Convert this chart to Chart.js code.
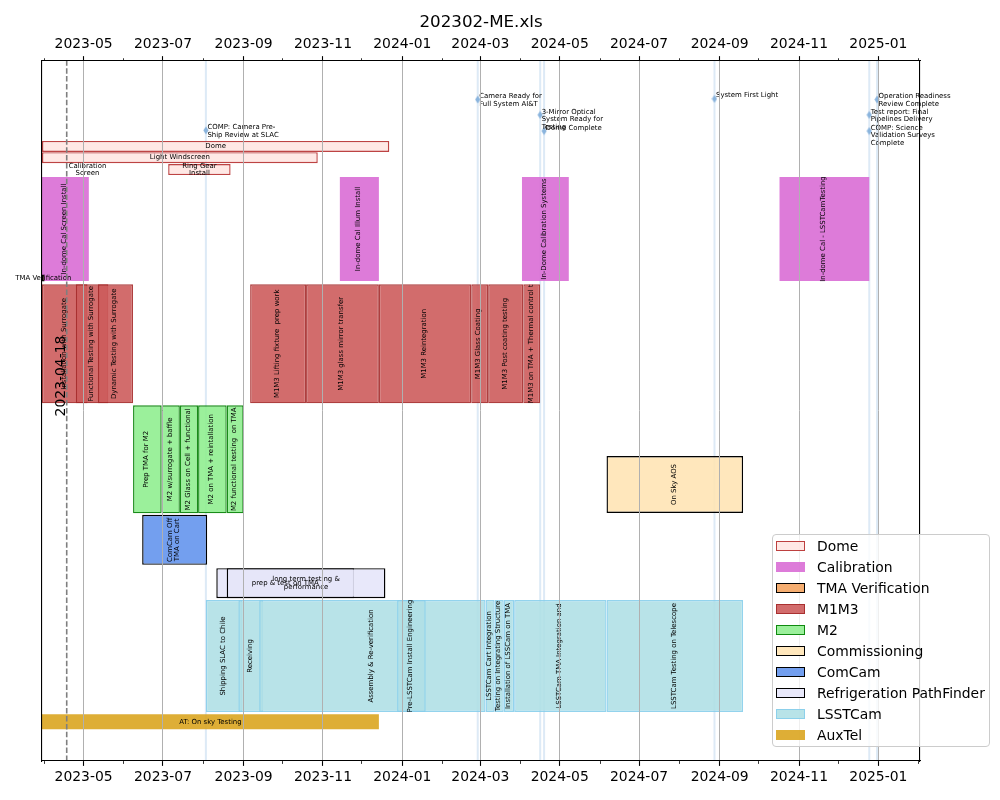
<!DOCTYPE html>
<html>
<head>
<meta charset="utf-8">
<script src="https://cdn.jsdelivr.net/npm/chart.js@4.4.1/dist/chart.umd.min.js"></script>
<style>
html,body{margin:0;padding:0;background:#fff;}
#wrap{position:relative;width:1000px;height:800px;}
#legend{position:absolute;left:772px;top:534px;width:218px;height:213px;box-sizing:border-box;border:1px solid #cccccc;border-radius:4px;background:rgba(255,255,255,0.8);font-family:'DejaVu Sans',sans-serif;font-size:13.9px;color:#000;}
.li{position:absolute;left:3px;height:21px;display:flex;align-items:center;white-space:nowrap;}
.sw{width:29px;height:10px;box-sizing:border-box;margin-right:12px;}
</style>
</head>
<body>
<div id="wrap"><canvas id="c" width="1000" height="800"></canvas><div id="legend"></div></div>
<script>
// ---------------- DATA ----------------
const chartTitle = '202302-ME.xls';
const axisRange = ['2023-03-30', '2025-02-02'];
const majorTicks = ['2023-05','2023-07','2023-09','2023-11','2024-01','2024-03','2024-05','2024-07','2024-09','2024-11','2025-01'];
const minorTicks = ['2023-04','2023-06','2023-08','2023-10','2023-12','2024-02','2024-04','2024-06','2024-08','2024-10','2024-12','2025-02'];

const categories = ['Dome','Calibration','TMA Verification','M1M3','M2','Commissioning','ComCam','Refrigeration PathFinder','LSSTCam','AuxTel'];

const taskLabels = [
  'Dome','Light Windscreen','Ring Gear\nInstall','Calibration\nScreen',
  'In-dome Cal Screen Install','In-dome Cal Illum Install','In-Dome Calibration Systems','In-dome Cal - LSSTCamTesting',
  'TMA Verification',
  'Installation with Surrogate','Functional Testing with Surrogate','Dynamic Testing with Surrogate',
  'M1M3 Lifting fixture  prep work','M1M3 glass mirror transfer','M1M3 Reintegration','M1M3 Glass Coating',
  'M1M3 Post coating testing','M1M3 on TMA + Thermal control t',
  'Prep TMA for M2','M2 w/surrogate + baffle','M2 Glass on Cell + functional','M2 on TMA + reintallation','M2 functional testing  on TMA',
  'On Sky AOS',
  'ComCam Off\nTMA on Cart',
  'prep & test on TMA','long term testing &\nperformance',
  'Shipping SLAC to Chile','Receiving','Assembly & Re-verification','Pre-LSSTCam Install Engineering',
  'LSSTCam Cart Integration','Testing on Integrating Structure','Installation of LSSCam on TMA',
  'LSSTCam TMA Integration and','LSSTCam Testing on Telescope',
  'AT: On sky Testing'
];
const taskGroups = [
  0,0,0,0,
  1,1,1,1,
  2,
  3,3,3,3,3,3,3,3,3,
  4,4,4,4,4,
  5,
  6,
  7,7,
  8,8,8,8,8,8,8,8,8,
  9
];
const taskStarts = [
  '2023-03-30','2023-03-30','2023-07-05','2023-05-04',
  '2023-03-30','2023-11-14','2024-04-02','2024-10-17',
  '2023-03-30',
  '2023-03-30','2023-04-25','2023-05-12','2023-09-06','2023-10-19','2023-12-14','2024-02-23','2024-03-07','2024-04-03',
  '2023-06-08','2023-06-30','2023-07-14','2023-07-28','2023-08-19',
  '2024-06-06',
  '2023-06-15',
  '2023-08-11','2023-08-19',
  '2023-08-03','2023-08-28','2023-09-13','2023-12-28','2024-03-05','2024-03-12','2024-03-19','2024-03-27','2024-06-06',
  '2023-03-30'
];
const taskEnds = [
  '2023-12-22','2023-10-28','2023-08-22','2023-05-04',
  '2023-05-05','2023-12-14','2024-05-08','2024-12-25',
  '2023-04-01',
  '2023-05-04','2023-05-20','2023-06-08','2023-10-19','2023-12-14','2024-02-23','2024-03-07','2024-04-03','2024-04-16',
  '2023-06-30','2023-07-14','2023-07-28','2023-08-19','2023-09-01',
  '2024-09-19',
  '2023-08-04',
  '2023-11-25','2023-12-19',
  '2023-08-31','2023-09-16','2024-03-05','2024-01-19','2024-03-12','2024-03-19','2024-03-27','2024-06-06','2024-09-19',
  '2023-12-14'
];
const taskRows = [
  87.8,86.2,84.5,84.5,
  76,76,76,76,
  69,
  59.6,59.6,59.6,59.6,59.6,59.6,59.6,59.6,59.6,
  43.1,43.1,43.1,43.1,43.1,
  39.5,
  31.6,
  25.4,25.4,
  15,15,15,15,15,15,15,15,15,
  5.6
];

const milestoneLabels = [
  'COMP: Camera Pre-Ship Review at SLAC',
  'Camera Ready for Full System AI&T',
  '3-Mirror Optical System Ready for Testing',
  'Dome Complete',
  'System First Light',
  'Operation Readiness Review Complete',
  'Test report: Final Pipelines Delivery',
  'COMP: Science Validation Surveys Complete'
];
const milestoneDates = ['2023-08-03','2024-02-28','2024-04-16','2024-04-19','2024-08-28','2024-12-31','2024-12-25','2024-12-25'];
const milestoneRows = [90.1, 94.5, 92.3, 90.0, 94.6, 94.5, 92.3, 90.0];

const markerDate = '2023-04-18';
const markerRow = 55;
const yRange = [0, 100];

// ---------------- STYLE ----------------
const groupStyles = [
  {fill:'rgba(255,228,225,0.85)', edge:'rgba(178,34,34,0.85)', bw:1.4, thick:11, vertical:false},
  {fill:'rgba(218,112,214,0.92)', edge:'rgba(0,0,0,0)', bw:0, thick:104, vertical:true},
  {fill:'rgba(244,164,96,0.9)', edge:'#000000', bw:1.2, thick:7, vertical:false},
  {fill:'rgba(205,92,92,0.9)', edge:'rgba(165,42,42,0.9)', bw:1.4, thick:119, vertical:true},
  {fill:'rgba(144,238,144,0.9)', edge:'rgba(0,128,0,0.9)', bw:1.4, thick:108, vertical:true},
  {fill:'rgba(255,228,181,0.9)', edge:'#000000', bw:1.4, thick:57, vertical:true},
  {fill:'rgba(100,149,237,0.9)', edge:'#000000', bw:1.4, thick:50, vertical:true},
  {fill:'rgba(230,230,250,0.9)', edge:'#000000', bw:1.4, thick:30, vertical:false},
  {fill:'rgba(176,224,230,0.9)', edge:'rgba(135,206,235,0.9)', bw:1.4, thick:112, vertical:true},
  {fill:'rgba(218,165,32,0.9)', edge:'rgba(0,0,0,0)', bw:0, thick:15, vertical:false}
];
const LABEL_FONT = '6.94px "DejaVu Sans", sans-serif';

// ---------------- BUILD ----------------
const toMs = s => Date.parse(s + 'T00:00:00Z');
const monthKey = v => { const d = new Date(v); return d.getUTCFullYear() + '-' + String(d.getUTCMonth() + 1).padStart(2, '0'); };
const allMonths = majorTicks.concat(minorTicks).sort();
const isMajorVal = v => majorTicks.includes(monthKey(v));

function wrapText(s, width) {
  const words = s.split(' ');
  const lines = []; let cur = '';
  words.forEach(w => {
    if (!cur) { cur = w; return; }
    if ((cur + ' ' + w).length <= width) { cur += ' ' + w; return; }
    const hy = w.indexOf('-');
    if (hy > 0 && (cur + ' ' + w.slice(0, hy + 1)).length <= width) {
      lines.push(cur + ' ' + w.slice(0, hy + 1)); cur = w.slice(hy + 1); return;
    }
    lines.push(cur); cur = w;
  });
  if (cur) lines.push(cur);
  return lines;
}

const datasets = [];

// milestone vertical lines (under everything)
const vlineData = [];
milestoneDates.forEach(d => {
  vlineData.push({x: toMs(d), y: yRange[0]}, {x: toMs(d), y: yRange[1]}, {x: toMs(d), y: null});
});
datasets.push({
  type: 'line', label: '_vlines', data: vlineData, order: 100,
  borderColor: 'rgba(150,190,228,0.32)', borderWidth: 2, pointRadius: 0, spanGaps: false, fill: false
});

categories.forEach((cat, g) => {
  const st = groupStyles[g];
  const idx = taskGroups.map((gg, i) => gg === g ? i : -1).filter(i => i >= 0);
  datasets.push({
    type: 'bar', label: cat, isGroup: true, indexAxis: 'y', grouped: false, order: 50 - g,
    data: idx.map(i => ({x: [toMs(taskStarts[i]), toMs(taskEnds[i])], y: taskRows[i]})),
    taskText: idx.map(i => taskLabels[i]),
    verticalText: st.vertical,
    backgroundColor: st.fill, borderColor: st.edge, borderWidth: st.bw, borderSkipped: false,
    barThickness: st.thick, inflateAmount: 0
  });
});

// diamond marker
const dia = document.createElement('canvas'); dia.width = 6; dia.height = 9;
(function(){ const g = dia.getContext('2d'); g.fillStyle = '#8ab4dd'; g.beginPath();
  g.moveTo(3, 0.5); g.lineTo(5.6, 4.5); g.lineTo(3, 8.5); g.lineTo(0.4, 4.5); g.closePath(); g.fill(); })();

datasets.push({
  type: 'scatter', label: '_milestones', order: 2,
  data: milestoneDates.map((d, i) => ({x: toMs(d), y: milestoneRows[i]})),
  milestoneText: milestoneLabels.map(s => wrapText(s, 20)),
  pointStyle: dia, pointRadius: 4, showLine: false
});

datasets.push({
  type: 'line', label: '_marker', order: 1, isMarker: true,
  data: [{x: toMs(markerDate), y: yRange[0]}, {x: toMs(markerDate), y: yRange[1]}],
  borderColor: '#7f7f7f', borderWidth: 1.6, borderDash: [5.5, 2.4], pointRadius: 0, fill: false
});

// ---------------- PLUGINS ----------------
const labelPlugin = {
  id: 'taskLabels',
  afterDatasetDraw(chart, args) {
    const ds = chart.data.datasets[args.index];
    const ctx = chart.ctx;
    const meta = args.meta;
    if (ds.taskText) {
      ctx.save();
      ctx.fillStyle = '#000'; ctx.font = LABEL_FONT; ctx.textAlign = 'center'; ctx.textBaseline = 'middle';
      const lh = 7.8;
      meta.data.forEach((el, i) => {
        const p = el.getProps(['x', 'y', 'base'], true);
        const cx = (p.x + p.base) / 2;
        const lines = ds.taskText[i].split('\n');
        if (ds.verticalText) {
          ctx.save(); ctx.translate(cx - 1, p.y); ctx.rotate(-Math.PI / 2);
          lines.forEach((ln, k) => ctx.fillText(ln, 0, (k - (lines.length - 1) / 2) * lh));
          ctx.restore();
        } else {
          lines.forEach((ln, k) => ctx.fillText(ln, cx, p.y + (k - (lines.length - 1) / 2) * 7.2));
        }
      });
      ctx.restore();
    }
    if (ds.milestoneText) {
      ctx.save();
      ctx.fillStyle = '#000'; ctx.font = LABEL_FONT; ctx.textAlign = 'left'; ctx.textBaseline = 'middle';
      meta.data.forEach((el, i) => {
        const p = el.getProps(['x', 'y'], true);
        ds.milestoneText[i].forEach((ln, k) => ctx.fillText(ln, p.x + 1.5, p.y - 3.2 + k * 7.6));
      });
      ctx.restore();
    }
    if (ds.isMarker) {
      const xs = chart.scales.x, ys = chart.scales.y;
      ctx.save();
      ctx.translate(xs.getPixelForValue(toMs(markerDate)) - 2, ys.getPixelForValue(markerRow));
      ctx.rotate(-Math.PI / 2);
      ctx.fillStyle = '#000'; ctx.font = '13.9px "DejaVu Sans", sans-serif';
      ctx.textAlign = 'center'; ctx.textBaseline = 'alphabetic';
      ctx.fillText(markerDate, 0, 0);
      ctx.restore();
    }
  }
};

function xAxis(pos) {
  const top = pos === 'top';
  return {
    type: 'linear', position: pos, min: toMs(axisRange[0]), max: toMs(axisRange[1]),
    offset: false, beginAtZero: false,
    afterBuildTicks: s => { s.ticks = allMonths.map(m => ({value: toMs(m + '-01')})); },
    afterFit: s => { s.height = top ? 28 : 39; },
    ticks: {
      autoSkip: false, maxRotation: 0, minRotation: 0, padding: 3, color: '#000',
      font: {size: 13.9, family: '"DejaVu Sans", sans-serif'},
      callback: v => isMajorVal(v) ? monthKey(v) : ''
    },
    grid: {
      offset: false, z: 1,
      drawOnChartArea: !top,
      color: c => (c.tick && isMajorVal(c.tick.value)) ? '#b0b0b0' : 'rgba(0,0,0,0)',
      lineWidth: 1,
      tickLength: 4.9,
      tickColor: '#000',
      tickWidth: c => (c.tick && isMajorVal(c.tick.value)) ? 1.1 : 0.8,
      tickBorderDash: c => (c.tick && isMajorVal(c.tick.value)) ? [] : (top ? [0, 2.1, 2.8, 20] : [2.8, 20])
    },
    border: {display: true, color: '#000', width: 1.1, z: 1}
  };
}
function yAxis(pos) {
  return {
    type: 'linear', position: pos, min: yRange[0], max: yRange[1], offset: false, beginAtZero: false,
    afterFit: s => { s.width = pos === 'left' ? 42 : 80; },
    ticks: {display: false},
    grid: {display: false, offset: false, drawTicks: false},
    border: {display: true, color: '#000', width: 1.1, z: 1}
  };
}

Chart.defaults.font.family = '"DejaVu Sans", sans-serif';
Chart.defaults.color = '#000';

const chart = new Chart(document.getElementById('c'), {
  type: 'bar',
  data: {datasets},
  options: {
    responsive: false, animation: false, devicePixelRatio: 1, events: [],
    layout: {padding: 0},
    scales: {x: xAxis('bottom'), x2: xAxis('top'), y: yAxis('left'), y2: yAxis('right')},
    plugins: {
      legend: {display: false},
      tooltip: {enabled: false},
      title: {display: true, text: chartTitle, color: '#000', fullSize: false,
        font: {size: 16.7, weight: 'normal', lineHeight: 1.2}, padding: {top: 13, bottom: 0}}
    }
  },
  plugins: [labelPlugin]
});

// HTML legend built from chart datasets
const legendEl = document.getElementById('legend');
chart.data.datasets.filter(d => d.isGroup).forEach((d, i) => {
  const row = document.createElement('div'); row.className = 'li'; row.style.top = (21 * i) + 'px';
  const sw = document.createElement('span'); sw.className = 'sw';
  sw.style.background = d.backgroundColor;
  sw.style.border = d.borderWidth ? ('1.3px solid ' + d.borderColor) : 'none';
  const tx = document.createElement('span'); tx.textContent = d.label;
  row.appendChild(sw); row.appendChild(tx); legendEl.appendChild(row);
});
</script>
</body>
</html>
